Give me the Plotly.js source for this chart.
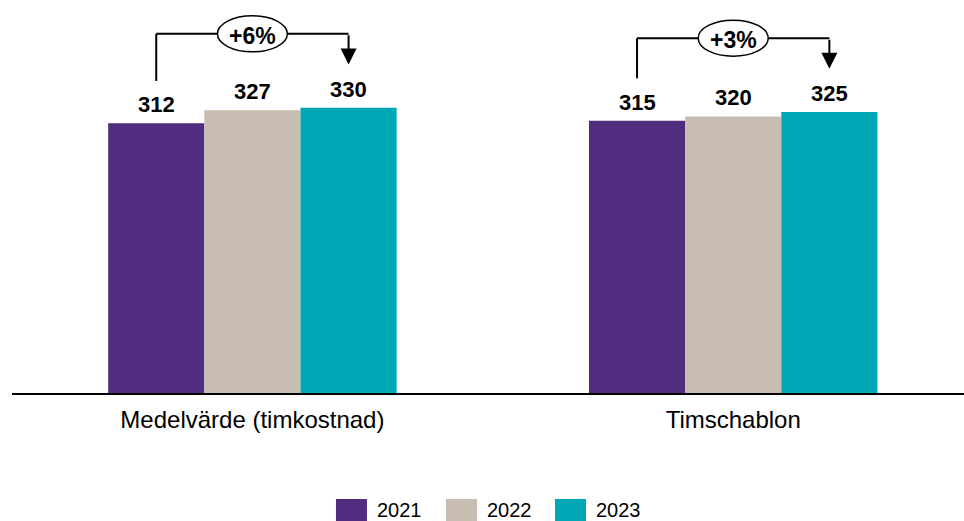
<!DOCTYPE html>
<html>
<head>
<meta charset="utf-8">
<script src="https://cdn.plot.ly/plotly-3.0.1.min.js"></script>
<style>
  html, body { margin: 0; padding: 0; background: #ffffff; }
  #chart { width: 964px; height: 521px; }
</style>
</head>
<body>
<div id="chart"></div>
<script>
// ---- Data ----
const categories = ['Medelvärde (timkostnad)', 'Timschablon'];
const years = ['2021', '2022', '2023'];
const values2021 = [312, 315];
const values2022 = [327, 320];
const values2023 = [330, 325];
const colors = ['#512D7F', '#C7BEB1', '#00A8B5'];

const series = [values2021, values2022, values2023];

// ---- Layout constants ----
const FONT = '"Liberation Sans", Arial, sans-serif';
const barW = 0.2;              // bargap 0.4, 3 bars -> each 0.2 category units
const offsets = [-barW, 0, barW];

const traces = series.map((vals, i) => ({
  type: 'bar',
  name: years[i],
  x: categories,
  y: vals,
  marker: { color: colors[i], line: { width: 0 } },
  hoverinfo: 'skip',
  showlegend: false
}));

const shapes = [];
const annotations = [];

// value labels
series.forEach((vals, i) => {
  vals.forEach((v, g) => {
    annotations.push({
      xref: 'x', yref: 'y', x: g + offsets[i], y: v,
      text: '<b>' + v + '</b>', showarrow: false,
      yanchor: 'bottom', yshift: 4,
      font: { family: FONT, size: 22, color: '#000000' }
    });
  });
});

// change brackets
categories.forEach((c, g) => {
  const first = values2021[g];
  const last = values2023[g];
  const maxV = Math.max(values2021[g], values2022[g], values2023[g]);
  const top = maxV + 85.5;
  const bottom = first + 49;
  const tip = last + 50;
  const pct = Math.round((last / first - 1) * 100);
  const xL = g + offsets[0];
  const xR = g + offsets[2];
  shapes.push({ type: 'line', xref: 'x', yref: 'y', x0: xL, x1: xL, y0: bottom, y1: top,
                line: { color: '#000000', width: 2 } });
  shapes.push({ type: 'line', xref: 'x', yref: 'y', x0: xL, x1: xR, y0: top, y1: top,
                line: { color: '#000000', width: 2 } });
  shapes.push({ type: 'circle', xref: 'x', yref: 'y',
                xsizemode: 'pixel', xanchor: g, x0: -35, x1: 35,
                ysizemode: 'pixel', yanchor: top, y0: -18, y1: 18,
                fillcolor: '#ffffff', line: { color: '#000000', width: 1.5 } });
  annotations.push({
    xref: 'x', yref: 'y', x: g, y: top, text: '<b>' + (pct >= 0 ? '+' : '') + pct + '%</b>',
    showarrow: false, yanchor: 'middle', xanchor: 'center', yshift: -2,
    font: { family: FONT, size: 23, color: '#000000' }
  });
  annotations.push({
    xref: 'x', yref: 'y', x: xR, y: tip, axref: 'x', ayref: 'y', ax: xR, ay: top,
    text: '', showarrow: true, arrowhead: 2, arrowsize: 1.6, arrowwidth: 2, arrowcolor: '#000000'
  });
});

// custom legend
const legendX = [0.3403, 0.4559, 0.5704];
const legendY = -0.3008;
years.forEach((yr, i) => {
  shapes.push({ type: 'rect', xref: 'paper', yref: 'paper',
                xsizemode: 'pixel', xanchor: legendX[i], x0: 0, x1: 31,
                ysizemode: 'pixel', yanchor: legendY, y0: -11, y1: 11,
                fillcolor: colors[i], line: { width: 0 } });
  annotations.push({
    xref: 'paper', yref: 'paper', x: legendX[i], y: legendY, xshift: 39,
    text: yr, showarrow: false, xanchor: 'left', yanchor: 'middle',
    font: { family: FONT, size: 20, color: '#000000' }
  });
});

const layout = {
  width: 964, height: 521,
  margin: { l: 12, r: 0, t: 4, b: 128 },
  paper_bgcolor: '#ffffff', plot_bgcolor: '#ffffff',
  barmode: 'group', bargap: 0.4, bargroupgap: 0,
  showlegend: false,
  xaxis: {
    type: 'category', range: [-0.5, 1.48],
    showline: true, linecolor: '#000000', linewidth: 2,
    ticks: '', showgrid: false, zeroline: false,
    ticklabelstandoff: 4,
    tickfont: { family: FONT, size: 24, color: '#000000' },
    fixedrange: true
  },
  yaxis: { range: [0, 450], visible: false, fixedrange: true },
  shapes: shapes,
  annotations: annotations,
  font: { family: FONT }
};

Plotly.newPlot('chart', traces, layout, { displayModeBar: false, staticPlot: true });
</script>
</body>
</html>
